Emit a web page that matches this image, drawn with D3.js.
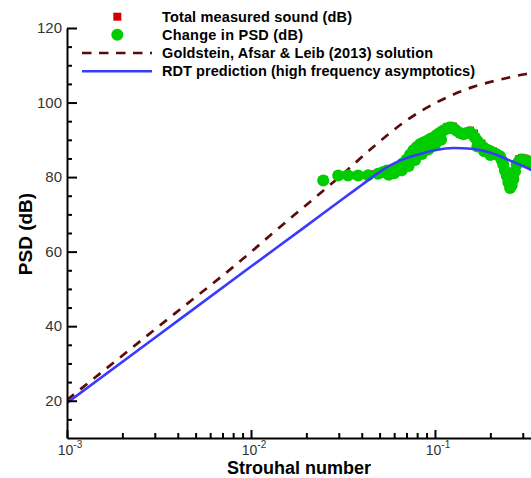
<!DOCTYPE html>
<html>
<head>
<meta charset="utf-8">
<script src="https://cdn.jsdelivr.net/npm/d3@7"></script>
<style>
  html, body { margin: 0; padding: 0; background: #fff; }
  svg { display: block; }
  text { font-family: "Liberation Sans", Arial, sans-serif; }
</style>
</head>
<body>
<svg id="chart" width="531" height="478"></svg>
<script>
// ---------------- DATA ----------------
const legendLabels = [
  "Total measured sound (dB)",
  "Change in PSD (dB)",
  "Goldstein, Afsar & Leib (2013) solution",
  "RDT prediction (high frequency asymptotics)"
];
const xMajorTicks = [0.001, 0.01, 0.1];
const xMajorExp = ["-3", "-2", "-1"];
const yMajorTicks = [20, 40, 60, 80, 100, 120];

// RDT prediction (blue)
const rdtSt = [0.001, 0.00316, 0.01, 0.02, 0.0316, 0.0398, 0.0501, 0.0631, 0.0794, 0.1, 0.126, 0.158, 0.2, 0.251, 0.331, 0.36];
const rdtDb = [19.4, 37.7, 56.0, 66.9, 74.2, 77.8, 81.4, 84.2, 85.9, 87.2, 87.8, 87.6, 86.5, 84.6, 82.0, 81.0];

// Goldstein, Afsar & Leib (2013) (dashed)
const galSt = [0.001, 0.00316, 0.01, 0.0126, 0.0237, 0.0302, 0.046, 0.0705, 0.1026, 0.132, 0.161, 0.199, 0.246, 0.308, 0.36];
const galDb = [20.2, 40.0, 59.9, 64.2, 75.6, 80.0, 88.0, 95.3, 100.1, 102.6, 104.2, 105.5, 106.6, 107.6, 108.1];

// Change in PSD (green)
const psdSt = [0.0247, 0.0298, 0.0337, 0.0382, 0.0433, 0.0490, 0.0519, 0.0548, 0.0583, 0.0617, 0.0646, 0.0673, 0.0702, 0.0731, 0.0762, 0.0794,
  0.0828, 0.0865, 0.0902, 0.0939, 0.0980, 0.1021, 0.1064, 0.1110, 0.1159, 0.1197, 0.1233, 0.1274, 0.1312, 0.1368, 0.1426, 0.1486,
  0.1549, 0.1600, 0.1648, 0.1702, 0.1758, 0.1832, 0.1910, 0.1991, 0.2075, 0.2163, 0.2254, 0.2301, 0.2350, 0.2399, 0.2455, 0.2506,
  0.2559, 0.2612, 0.2667, 0.2723, 0.2780, 0.2864, 0.2958, 0.3083, 0.3214, 0.3350];
const psdDb = [79.1, 80.4, 80.4, 80.4, 80.5, 80.9, 81.3, 81.8, 82.0, 82.4, 83.0, 83.8, 84.7, 86.0, 87.2, 88.0,
  88.8, 89.3, 89.7, 90.2, 90.6, 91.3, 91.9, 92.5, 93.0, 93.3, 93.3, 92.9, 92.4, 91.8, 91.5, 91.8,
  92.0, 91.4, 90.6, 89.7, 88.8, 88.0, 87.4, 87.0, 86.5, 86.1, 85.6, 84.6, 83.4, 81.8, 80.3, 78.6,
  77.1, 77.8, 79.4, 81.5, 83.4, 84.3, 84.7, 84.5, 84.3, 83.5];
// extra scattered points of the same series (lower side of the rising band)
const psdSt2 = [0.0560, 0.0600, 0.0660, 0.0720, 0.0780, 0.0850, 0.0920, 0.1000, 0.1080, 0.1700, 0.1850, 0.2000];
const psdDb2 = [80.6, 81.0, 81.8, 83.0, 84.6, 86.2, 87.4, 88.6, 90.0, 88.2, 86.9, 85.9];

// Total measured sound (red squares, mostly hidden)
const totSt = [0.0250, 0.0300, 0.0440, 0.0660, 0.0800, 0.1000, 0.1160, 0.1260, 0.1560, 0.1640, 0.1800, 0.2080, 0.2350, 0.2560, 0.2720, 0.2860, 0.2960, 0.3080, 0.3210];
const totDb = [79.4, 80.7, 80.9, 83.9, 88.5, 91.1, 93.6, 93.7, 92.6, 91.8, 89.1, 87.0, 84.3, 77.8, 80.0, 85.0, 85.3, 85.1, 84.7];

// ---------------- CHART ----------------
const svg = d3.select("#chart");
const W = 531, H = 478;
const m = { left: 67, right: 0, top: 28, bottom: 438 };

const x = d3.scaleLog().domain([0.001, 0.3326]).range([m.left, W]);
const y = d3.scaleLinear().domain([10, 120]).range([m.bottom, m.top]);

svg.append("defs").append("clipPath").attr("id", "clip")
  .append("rect").attr("x", m.left).attr("y", 0).attr("width", W - m.left).attr("height", m.bottom);

const plot = svg.append("g").attr("clip-path", "url(#clip)");

const line = d3.line().x(d => x(d[0])).y(d => y(d[1])).curve(d3.curveMonotoneX);

// Goldstein dashed
plot.append("path")
  .datum(galSt.map((s, i) => [s, galDb[i]]))
  .attr("d", line)
  .attr("fill", "none")
  .attr("stroke", "#5c0a0a")
  .attr("stroke-width", 2.7)
  .attr("stroke-dasharray", "9,8");

// red squares
plot.append("g").selectAll("rect")
  .data(totSt.map((s, i) => [s, totDb[i]]))
  .join("rect")
  .attr("x", d => x(d[0]) - 3.5)
  .attr("y", d => y(d[1]) - 3.5)
  .attr("width", 7).attr("height", 7)
  .attr("fill", "#d40000");

// green circles
const psdAll = psdSt.map((s, i) => [s, psdDb[i]]).concat(psdSt2.map((s, i) => [s, psdDb2[i]]));
plot.append("g").selectAll("circle")
  .data(psdAll)
  .join("circle")
  .attr("cx", d => x(d[0]))
  .attr("cy", d => y(d[1]))
  .attr("r", 6)
  .attr("fill", "#00cc00");

// RDT blue
plot.append("path")
  .datum(rdtSt.map((s, i) => [s, rdtDb[i]]))
  .attr("d", line)
  .attr("fill", "none")
  .attr("stroke", "#3a3aff")
  .attr("stroke-width", 2.6);

// ---------------- AXES ----------------
const xMinor = [];
for (const d of [0.001, 0.01, 0.1]) for (let k = 2; k <= 9; k++) { const v = d * k; if (v <= 0.3326) xMinor.push(v); }

const gx = svg.append("g").attr("transform", `translate(0,${m.bottom})`);
gx.call(d3.axisBottom(x).tickValues(xMinor).tickSize(-5).tickSizeOuter(0).tickFormat(""));
const gx2 = svg.append("g").attr("transform", `translate(0,${m.bottom})`);
gx2.call(d3.axisBottom(x).tickValues(xMajorTicks).tickSize(-8).tickSizeOuter(0).tickFormat(""));
[gx, gx2].forEach(g => {
  g.selectAll("path.domain").attr("stroke", "#000").attr("stroke-width", 2);
  g.selectAll(".tick line").attr("stroke", "#000").attr("stroke-width", 2);
});
gx2.select("path.domain").remove();

// x tick labels with superscripts
xMajorTicks.forEach((v, i) => {
  const t = svg.append("text")
    .attr("x", x(v) + 3)
    .attr("y", 454.5)
    .attr("text-anchor", "middle")
    .attr("fill", "#333")
    .style("font-size", "14px");
  t.append("tspan").text("10");
  t.append("tspan").attr("dy", -7).style("font-size", "10px").text(xMajorExp[i]);
});

const yMinor = d3.range(15, 120, 5).filter(v => v % 20 !== 0);
const gy = svg.append("g").attr("transform", `translate(${m.left},0)`);
gy.call(d3.axisLeft(y).tickValues(yMinor).tickSize(-5).tickSizeOuter(0).tickFormat(""));
const gy2 = svg.append("g").attr("transform", `translate(${m.left},0)`);
gy2.call(d3.axisLeft(y).tickValues(yMajorTicks).tickSize(-10).tickSizeOuter(0).tickPadding(5).tickFormat(d3.format("d")));
[gy, gy2].forEach(g => {
  g.selectAll("path.domain").attr("stroke", "#000").attr("stroke-width", 2);
  g.selectAll(".tick line").attr("stroke", "#000").attr("stroke-width", 2);
});
gy2.select("path.domain").remove();
gy2.selectAll(".tick text")
  .attr("fill", "#333")
  .style("font-size", "15px")
  .style("font-family", '"Liberation Sans", Arial, sans-serif');

// axis titles
svg.append("text")
  .attr("x", 299).attr("y", 474)
  .attr("text-anchor", "middle")
  .style("font-size", "18px").style("font-weight", "bold")
  .attr("fill", "#000")
  .text("Strouhal number");

svg.append("text")
  .attr("transform", "translate(32,234) rotate(-90)")
  .attr("text-anchor", "middle")
  .style("font-size", "19px").style("font-weight", "bold")
  .attr("fill", "#000")
  .text("PSD (dB)");

// ---------------- LEGEND ----------------
const lg = svg.append("g");
const rowY = [16.7, 34.8, 53, 71.2];
const legendTextWidth = [190, 141, 271, 313];
lg.append("rect").attr("x", 117.3 - 4).attr("y", rowY[0] - 4).attr("width", 8).attr("height", 8).attr("fill", "#d40000");
lg.append("circle").attr("cx", 117.3).attr("cy", rowY[1]).attr("r", 6).attr("fill", "#00cc00");
lg.append("line").attr("x1", 82).attr("x2", 152).attr("y1", rowY[2]).attr("y2", rowY[2])
  .attr("stroke", "#5c0a0a").attr("stroke-width", 2.7).attr("stroke-dasharray", "9.5,7.5");
lg.append("line").attr("x1", 82).attr("x2", 152).attr("y1", rowY[3]).attr("y2", rowY[3])
  .attr("stroke", "#3a3aff").attr("stroke-width", 2.6);
legendLabels.forEach((s, i) => {
  lg.append("text")
    .attr("x", 162).attr("y", rowY[i] + 5.2)
    .attr("textLength", legendTextWidth[i])
    .attr("lengthAdjust", "spacing")
    .style("font-size", "14.5px").style("font-weight", "bold")
    .attr("fill", "#000")
    .text(s);
});
</script>
</body>
</html>
